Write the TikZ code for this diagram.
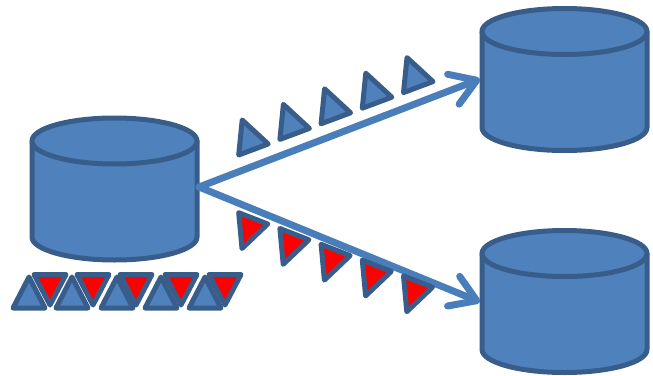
\documentclass[tikz,border=0pt]{standalone}
\usetikzlibrary{arrows.meta}
\definecolor{fillblue}{HTML}{4F81BD}
\definecolor{edgeblue}{HTML}{385D8A}
\definecolor{arrowblue}{HTML}{4A7EBB}
\tikzset{
  db/.style={fill=fillblue,draw=edgeblue,line width=5pt,line join=round},
  tri/.style={fill=fillblue,draw=edgeblue,line width=5pt,line join=round},
  redtri/.style={fill=red,draw=edgeblue,line width=5pt,line join=round},
  flow/.style={draw=arrowblue,line width=7pt,line cap=round,
    -{Straight Barb[length=25pt,width=32pt,line width=7pt,round]}}
}
\newcommand{\dbcyl}[3]{% name, left x, top y of the ellipse
  \begin{scope}[shift={(#2,#3)}]
    \path[db] (0,23) -- (0,119) arc[start angle=180,end angle=0,x radius=82.5,y radius=23]
      -- (165,23) -- cycle;
    \path[db] (0,23) arc[start angle=180,end angle=-180,x radius=82.5,y radius=23];
    \coordinate (#1-l) at (0,71);
    \coordinate (#1-r) at (165,71);
  \end{scope}
}
\newcommand{\uptri}[2]{\path[tri,shift={(#1,#2)}] (3.5,-35) -- (0,0) -- (29.5,-11) -- cycle;}
\newcommand{\dntri}[2]{\path[redtri,shift={(#1,#2)}] (0,0) -- (29,11.3) -- (3.3,35.8) -- cycle;}
\begin{document}
\begin{tikzpicture}[x=1pt,y=-1pt]
\useasboundingbox (0,0) rectangle (653,375);
\dbcyl{src}{32}{118}
\dbcyl{dsta}{482}{8.5}
\dbcyl{dstb}{482}{230.5}
% row below the source
\foreach \x in {34,77,120,165,209} \path[redtri] (\x,274.5) -- (\x+16,305) -- (\x+32,274.5) -- cycle;
\foreach \x in {13,56,101,145,189} \path[tri] (\x,308) -- (\x+16,277) -- (\x+32,308) -- cycle;
% arrows
\coordinate (fork) at (199,187);
\draw[flow] (fork) -- (480,79);
\draw[flow] (fork) -- (480,302);
% tokens on arrows
\foreach \i in {0,...,4} {
  \uptri{238.7+41.2*\i}{155-15.6*\i}
  \dntri{238.7+41.2*\i}{212.7+15.8*\i}
}
\end{tikzpicture}
\end{document}
